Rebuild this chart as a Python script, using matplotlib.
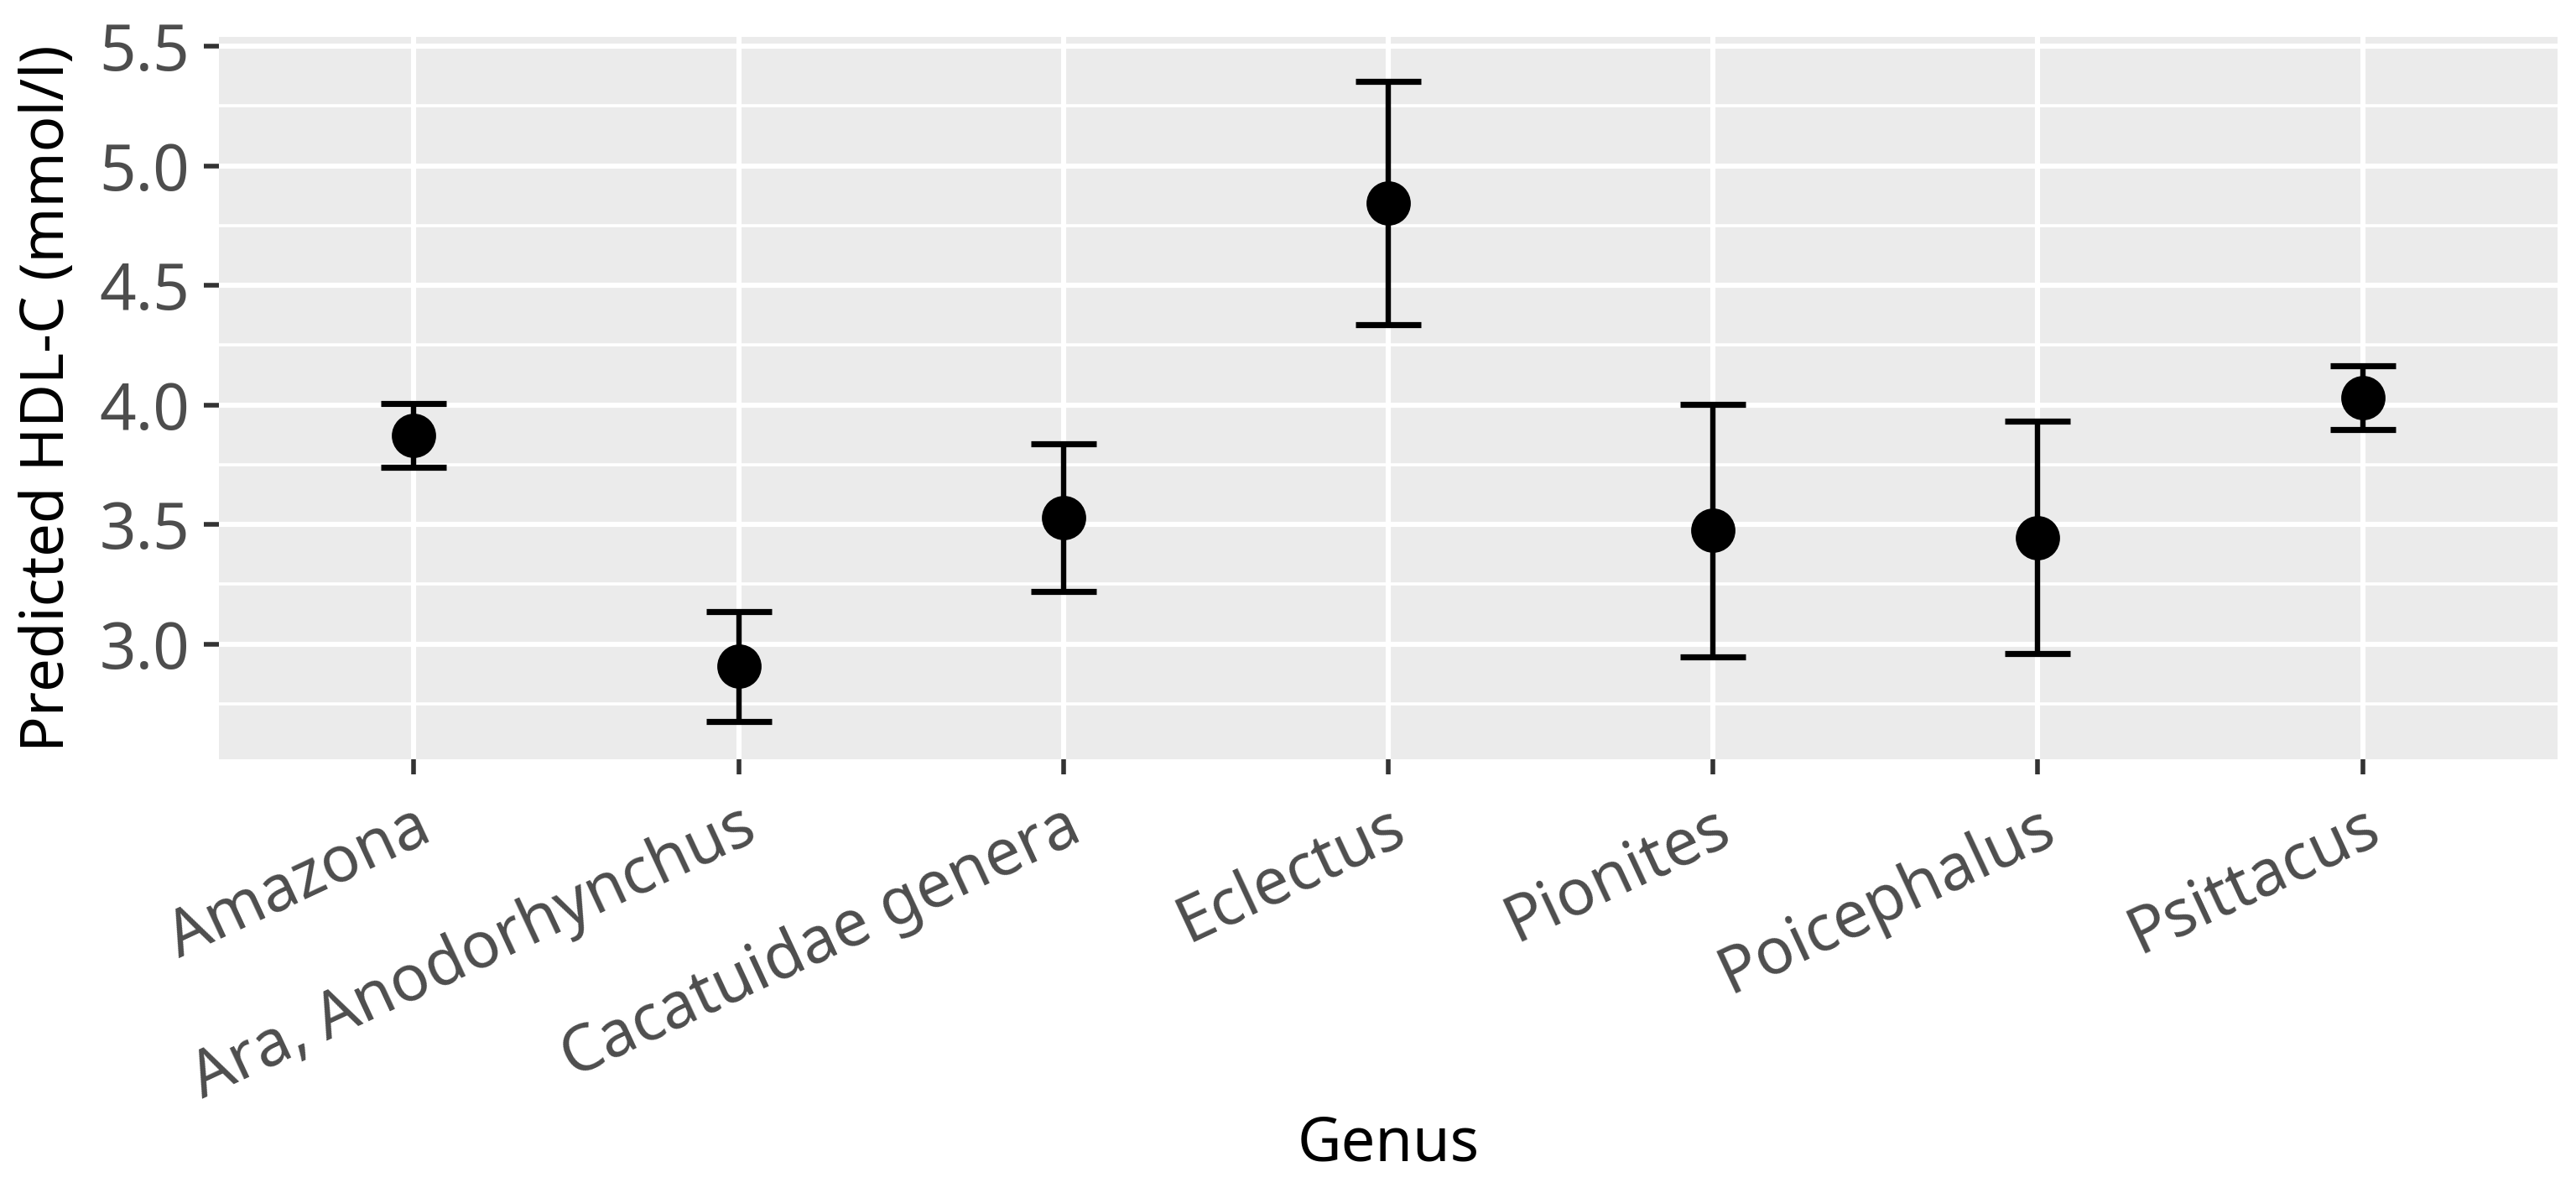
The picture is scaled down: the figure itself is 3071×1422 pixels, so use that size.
import matplotlib.pyplot as plt
import numpy as np
from matplotlib.ticker import MultipleLocator

# Data
genus = ['Amazona', 'Ara, Anodorhynchus', 'Cacatuidae genera', 'Eclectus',
         'Pionites', 'Poicephalus', 'Psittacus']
hdl_pred = np.array([3.872, 2.907, 3.527, 4.846, 3.475, 3.444, 4.030])
hdl_low = np.array([3.738, 2.675, 3.218, 4.337, 2.945, 2.960, 3.896])
hdl_high = np.array([4.006, 3.137, 3.836, 5.353, 4.003, 3.931, 4.165])

plt.rcParams['font.family'] = ['Noto Sans', 'DejaVu Sans']

fig = plt.figure(figsize=(15.355, 7.11), dpi=200)
ax = fig.add_axes([0.085, 0.3636, 0.9078, 0.6054])
ax.set_facecolor('#EBEBEB')

x = np.arange(len(genus))
yerr = np.vstack([hdl_pred - hdl_low, hdl_high - hdl_pred])
ax.errorbar(x, hdl_pred, yerr=yerr, fmt='o', color='black', markersize=18,
            elinewidth=2.3, capsize=14, capthick=2.6, zorder=3)

# ggplot-like grid
ax.set_xlim(-0.6, len(genus) - 1 + 0.6)
ax.set_ylim(2.518, 5.539)
ax.yaxis.set_major_locator(MultipleLocator(0.5))
ax.yaxis.set_minor_locator(MultipleLocator(0.25))
ax.set_yticks([3.0, 3.5, 4.0, 4.5, 5.0, 5.5])
ax.grid(which='major', color='white', linewidth=2.2)
ax.grid(which='minor', axis='y', color='white', linewidth=1.3)
ax.set_axisbelow(True)
for s in ax.spines.values():
    s.set_visible(False)

ax.set_xticks(x)
ax.set_xticklabels(genus, rotation=25, ha='right', va='top', rotation_mode='anchor',
                   fontsize=27.5, color='#4D4D4D')
ax.tick_params(axis='y', which='major', labelsize=27.5, labelcolor='#4D4D4D',
               length=6.5, width=2, color='#333333', pad=6)
ax.tick_params(axis='y', which='minor', length=0)
ax.tick_params(axis='x', length=6.5, width=2, color='#333333', pad=9)

ax.set_xlabel('Genus', fontsize=26, va='center')
ax.xaxis.set_label_coords(0.5, -0.534)
ax.set_ylabel('Predicted HDL-C (mmol/l)', fontsize=25.5, va='center', ha='center')
ax.yaxis.set_label_coords(-0.073, 0.5)

fig.savefig('out.png', dpi=200)
